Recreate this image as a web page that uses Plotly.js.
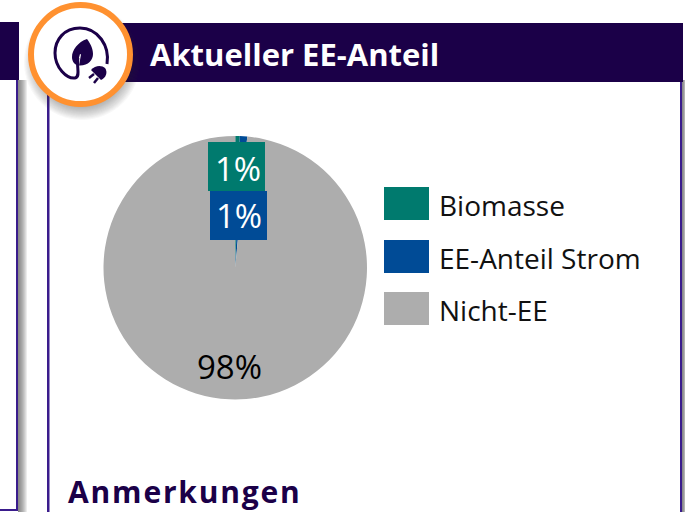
<!DOCTYPE html>
<html><head><meta charset="utf-8">
<script src="https://cdn.plot.ly/plotly-3.0.1.min.js"></script>
<style>html,body{margin:0;padding:0;background:#fff;overflow:hidden}#c{width:685px;height:512px}
.annotation[data-index="7"] text{letter-spacing:1.8px}</style>
</head><body><div id="c"></div>
<script>
const categories = ["Biomasse", "EE-Anteil Strom", "Nicht-EE"];
const values = [0.55, 0.9, 98.45];
const colors = ["#007A6E", "#004B96", "#ADADAD"];
const labelColors = ["#FFFFFF", "#FFFFFF", "#000000"];
const title = "Aktueller EE-Anteil";
const notes = "Anmerkungen";

const W = 685, H = 512;
const fx = x => x / W, fy = y => 1 - y / H;
const rect = (x0, y0, x1, y1, fill, layer) => ({type:"rect", xref:"paper", yref:"paper",
  x0:fx(x0), x1:fx(x1), y0:fy(y0), y1:fy(y1), fillcolor:fill, line:{width:0}, layer:layer||"above"});
const circ = (cx, cy, r, fill, lineColor, lw) => ({type:"circle", xref:"paper", yref:"paper",
  x0:fx(cx-r), x1:fx(cx+r), y0:fy(cy+r), y1:fy(cy-r), fillcolor:fill,
  line:{width:lw||0, color:lineColor||"rgba(0,0,0,0)"}, layer:"above"});
const path = (cmds, fill, lineColor, lw) => ({type:"path", xref:"paper", yref:"paper",
  path: cmds.map(c => typeof c === "string" ? c : fx(c[0]) + "," + fy(c[1])).join(" "),
  fillcolor:fill||"rgba(0,0,0,0)", line:{width:lw||0, color:lineColor||"rgba(0,0,0,0)"}, layer:"above"});

const NAVY = "#1B0048", EDGE = "#3A1C8C", ORANGE = "#FF9130";
const shapes = [];
for (let i = 0; i < 9; i++) {
  const a = 0.1;
  shapes.push(rect(18, 80, 19 + i, 512, `rgba(70,70,70,${a})`));
  shapes.push(rect(682, 80, 683 + i * 0.4, 512, `rgba(70,70,70,${a})`));
}
shapes.push(rect(16, 80, 18, 511, EDGE));
shapes.push(rect(0, 509, 18, 511, EDGE));
shapes.push(rect(0, 22, 19, 80, NAVY));
shapes.push(rect(47, 80, 49.5, 512, EDGE));
shapes.push(rect(680, 80, 682, 512, EDGE));
shapes.push(rect(48, 23, 683, 82, NAVY));
for (let i = 0; i < 14; i++) shapes.push(circ(82, 62, 58 - i * 1.1, "rgba(60,60,60,0.035)"));
shapes.push(circ(80.5, 54.5, 49.5, "#FFFFFF", ORANGE, 6));
// cord
shapes.push(path(["M",[107,64],"C",[110,46],[98,28],[80,28],"C",[64,28],[55,40],[55,53],
  "C",[55,68],[67,79],[75,78],"C",[81,77],[76,66],[78,58]], null, NAVY, 3));
// leaf
shapes.push(path(["M",[87,39],"C",[78,42],[72,50],[72,57],"C",[72,61],[74,64],[77,65],
  "L",[80,54],"L",[81,54.5],"L",[79,65.5],"C",[88,66],[93,60],[93,54],"C",[93,48],[90,43],[87,39],"Z"], NAVY));
// plug
shapes.push(path(["M",[91,70],"L",[101,80],"C",[106,78],[108,72],[105,68],"C",[102,65],[95,65],[91,70],"Z"], NAVY));
shapes.push(path(["M",[94,74],"L",[89,78]], null, NAVY, 2.5));
shapes.push(path(["M",[98,78],"L",[94,83]], null, NAVY, 2.5));

const boxes = [[208,142,265,191],[210,191,267,240]];
boxes.forEach((b, i) => shapes.push(rect(b[0], b[1], b[2], b[3], colors[i])));

const labelPos = [[238,168],[239,215],[230,366]];
const ann = [];
values.forEach((v, i) => ann.push({xref:"paper", yref:"paper", x:fx(labelPos[i][0]), y:fy(labelPos[i][1]),
  xanchor:"center", yanchor:"middle", showarrow:false, text:Math.round(v) + "%",
  font:{family:"Open Sans", size:33, color:labelColors[i]}}));

const legY = [187, 240, 292];
categories.forEach((c, i) => {
  shapes.push(rect(384, legY[i], 429, legY[i] + 33, colors[i]));
  ann.push({xref:"paper", yref:"paper", x:fx(437), y:fy(legY[i] + 18), xanchor:"left", yanchor:"middle",
    showarrow:false, text:c, font:{family:"Open Sans", size:28, color:"#111111"}});
});
ann.push({xref:"paper", yref:"paper", x:fx(148), y:fy(54), xanchor:"left", yanchor:"middle", showarrow:false,
  text:"<b>" + title + "</b>", font:{family:"Open Sans", size:31, color:"#FFFFFF"}});
ann.push({xref:"paper", yref:"paper", x:fx(75.5), y:fy(491), xanchor:"left", yanchor:"middle", showarrow:false,
  text:"<b>" + notes + "</b>", font:{family:"Open Sans", size:30, color:NAVY}});

Plotly.newPlot("c", [{
  type:"pie", labels:categories, values:values, sort:false, direction:"clockwise", rotation:0,
  marker:{colors:colors, line:{width:0}}, textinfo:"none", hoverinfo:"label+percent",
  domain:{x:[fx(103.5), fx(367)], y:[fy(399.5), fy(136)]}, showlegend:false
}], {
  width:W, height:H, margin:{l:0,r:0,t:0,b:0,pad:0}, paper_bgcolor:"#FFFFFF", showlegend:false,
  shapes:shapes, annotations:ann
}, {displayModeBar:false, staticPlot:true});
</script></body></html>
